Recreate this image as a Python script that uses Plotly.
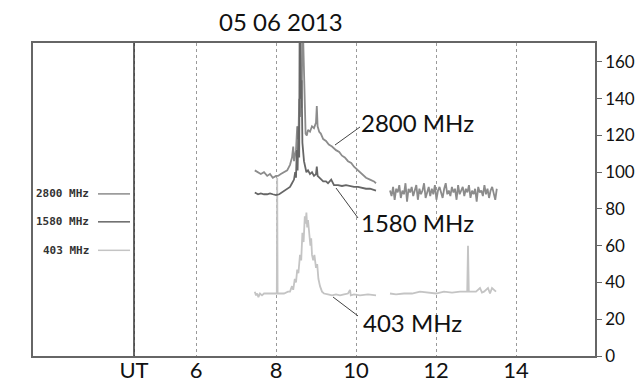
import numpy as np
import plotly.graph_objects as go

# ---- data (hours UT, flux) ----
t2800_a = [7.47, 7.55, 7.62, 7.7, 7.78, 7.85, 7.92, 8.0, 8.05, 8.12, 8.2, 8.28, 8.35, 8.4, 8.43, 8.45,
           8.5, 8.53, 8.56, 8.58, 8.6, 8.62, 8.64, 8.66, 8.68, 8.7, 8.72, 8.74, 8.77, 8.8, 8.85, 8.9, 8.95, 9.0,
           9.02, 9.04, 9.08, 9.12, 9.18, 9.25, 9.32, 9.4, 9.5, 9.58, 9.65, 9.72, 9.8, 9.88, 9.95,
           10.05, 10.15, 10.25, 10.35, 10.45, 10.5]
v2800_a = [101, 100, 99, 100, 98, 99, 97, 98, 98, 99, 100, 101, 104, 108, 114, 106,
           112, 125, 118, 140, 130, 150, 135, 175, 172, 150, 127, 121, 120, 123, 122, 125, 124, 127,
           136, 125, 122, 121, 118, 117, 115, 114, 112, 111, 109, 108, 106, 105, 103,
           101, 99, 97, 96, 95, 94]
t2800_b = [10.85, 13.52]
v2800_b = [90, 87, 92, 85, 91, 89, 93, 86, 90, 88, 94, 84, 91, 89, 92, 87, 90, 93, 85, 91,
           88, 90, 94, 86, 89, 92, 87, 91, 88, 93, 85, 90, 92, 89, 86, 91, 94, 88, 90, 87,
           92, 89, 91, 85, 93, 88, 90, 92, 87, 91, 89, 93, 86, 90, 88, 91, 84, 92, 89, 90,
           87, 93, 88, 91, 86, 90, 92, 88, 85, 91]

t1580_a = [7.47, 7.55, 7.62, 7.7, 7.78, 7.85, 7.92, 8.0, 8.08, 8.15, 8.22, 8.3, 8.35, 8.4, 8.45,
           8.48, 8.5, 8.52, 8.54, 8.56, 8.58, 8.59, 8.61, 8.62, 8.64, 8.66, 8.68, 8.7, 8.73, 8.76, 8.8,
           8.85, 8.9, 8.95, 9.0, 9.02, 9.04, 9.08, 9.12, 9.18, 9.25, 9.3, 9.38, 9.4, 9.45, 9.55,
           9.65, 9.75, 9.85, 9.95, 10.05, 10.15, 10.25, 10.35, 10.45, 10.5]
v1580_a = [89, 88, 88.5, 88, 88, 88.5, 88, 87.5, 88, 89, 90, 91, 92, 94, 96,
           100, 97, 112, 101, 125, 108, 175, 176, 140, 150, 116, 110, 106, 103, 100, 101,
           99, 100, 98, 99, 103, 98, 97, 96, 95, 95, 94, 96, 95, 93, 93,
           92.5, 93, 92.5, 92, 92, 91.5, 91, 91, 90.5, 90]

t403_a = [7.47, 7.5, 7.53, 7.56, 7.6, 7.65, 7.7, 7.8, 7.9, 8.0, 8.02, 8.03, 8.04, 8.1, 8.2, 8.3,
          8.35, 8.4, 8.43, 8.47, 8.5, 8.53, 8.56, 8.6, 8.63, 8.66, 8.69, 8.72, 8.74, 8.76, 8.78,
          8.8, 8.83, 8.86, 8.88, 8.9, 8.93, 8.96, 9.0, 9.03, 9.06, 9.1, 9.15, 9.2, 9.3, 9.4, 9.5,
          9.6, 9.7, 9.8, 9.85, 9.87, 9.95, 10.1, 10.3, 10.5]
v403_a = [35, 33, 34, 32, 34, 33, 34, 34, 34, 34, 34, 97, 34, 34, 34, 35,
          35, 38, 36, 42, 40, 47, 45, 55, 52, 67, 62, 76, 72, 78, 70,
          74, 66, 60, 64, 55, 52, 55, 48, 50, 42, 38, 35, 34, 33.5, 33, 33.5,
          33, 33.5, 34, 36, 33, 33.5, 33, 33.5, 33]
t403_b = [10.85, 11.0, 11.2, 11.4, 11.6, 11.8, 12.0, 12.2, 12.4, 12.6, 12.78, 12.8, 12.82,
          13.0, 13.1, 13.15, 13.2, 13.3, 13.35, 13.4, 13.5]
v403_b = [34, 33.5, 34, 34, 35, 34.5, 34, 35, 34.5, 35, 35, 60, 35, 35, 37, 34.5, 35, 37, 34, 37, 35]

x_ticks = [4.45, 6, 8, 10, 12, 14]
x_labels = ["UT", "6", "8", "10", "12", "14"]
y_ticks = [0, 20, 40, 60, 80, 100, 120, 140, 160]

title_text = "05 06 2013"
series_names = ["2800 MHz", "1580 MHz", "403 MHz"]

c2800 = "#8c8c8c"
c1580 = "#666666"
c403 = "#c4c4c4"

t2800_b_full = list(np.linspace(t2800_b[0], t2800_b[1], len(v2800_b)))

x2800 = t2800_a + [None] + t2800_b_full
y2800 = v2800_a + [None] + v2800_b
x403 = t403_a + [None] + t403_b
y403 = v403_a + [None] + v403_b

fig = go.Figure()
fig.add_trace(go.Scatter(x=x403, y=y403, mode="lines", line=dict(color=c403, width=1.8),
                         connectgaps=False, hoverinfo="skip"))
fig.add_trace(go.Scatter(x=x2800, y=y2800, mode="lines", line=dict(color=c2800, width=1.8),
                         connectgaps=False, hoverinfo="skip"))
fig.add_trace(go.Scatter(x=t1580_a, y=v1580_a, mode="lines", line=dict(color=c1580, width=1.8),
                         hoverinfo="skip"))

XR = [1.925, 15.975]
YR = [0, 170.3]

shapes = []
shapes.append(dict(type="line", xref="x", yref="paper", x0=4.45, x1=4.45, y0=0, y1=1,
                   line=dict(color="#333", width=1.5), layer="above"))
leg_y = [88.2, 73.0, 57.5]
for yv, c in zip(leg_y, [c2800, c1580, c403]):
    shapes.append(dict(type="line", xref="x", yref="y", x0=3.55, x1=4.35, y0=yv, y1=yv,
                       line=dict(color=c, width=1.5)))
leaders = [((9.475, 114.8), (10.1, 124.6)), ((9.5, 91.4), (10.05, 75.1)), ((9.425, 32.1), (10.05, 21.8))]
for (a, b) in leaders:
    shapes.append(dict(type="line", xref="x", yref="y", x0=a[0], y0=a[1], x1=b[0], y1=b[1],
                       line=dict(color="#444", width=1)))

annotations = []
for yv, name in zip(leg_y, series_names):
    annotations.append(dict(x=3.37, y=yv, xref="x", yref="y", text="<b>" + name + "</b>", showarrow=False,
                            xanchor="right", yanchor="middle",
                            font=dict(family="DejaVu Sans Mono", size=11, color="#333")))
for (xv, yv, name) in [(10.08, 127.0, series_names[0]), (10.08, 72.4, series_names[1]), (10.12, 18.0, series_names[2])]:
    annotations.append(dict(x=xv, y=yv, xref="x", yref="y", text=name, showarrow=False,
                            xanchor="left", yanchor="middle",
                            font=dict(family="Lato", size=24, color="#111")))
annotations.append(dict(x=6 + (281 - 196) / 40, y=1.0, xref="x", yref="paper", yshift=22, text=title_text,
                        showarrow=False, xanchor="center", yanchor="middle",
                        font=dict(family="Lato", size=24, color="#111")))

fig.update_layout(
    width=639, height=387,
    margin=dict(l=33, r=44, t=43, b=31),
    paper_bgcolor="white", plot_bgcolor="white",
    showlegend=False,
    shapes=shapes,
    annotations=annotations,
    xaxis=dict(range=XR, tickvals=x_ticks, ticktext=x_labels, showgrid=True, gridcolor="#9a9a9a",
               griddash="dot", gridwidth=1, showline=True, linecolor="#666", linewidth=1.5, mirror=True,
               ticks="", zeroline=False, tickfont=dict(family="Lato", size=22, color="#111"),
               ticklabelstandoff=-6, fixedrange=True, automargin=False),
    yaxis=dict(range=YR, tickvals=y_ticks, side="right", showgrid=False, showline=True, linecolor="#666",
               linewidth=1.5, mirror=True, ticks="outside", ticklen=5, tickcolor="#666", zeroline=False,
               tickfont=dict(family="Lato", size=17, color="#111"), fixedrange=True, automargin=False),
)

fig.write_html("out.html", config={"displayModeBar": False},
               post_script="document.body.style.margin='0';")
